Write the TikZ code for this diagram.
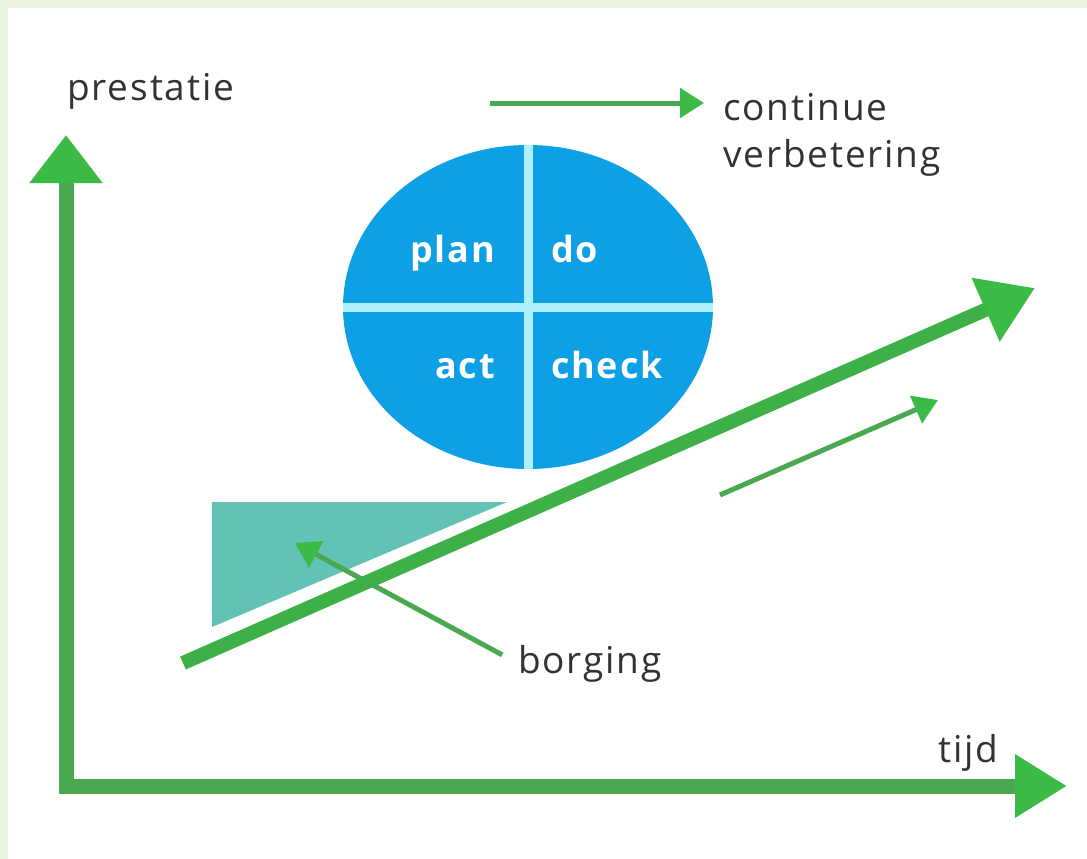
\documentclass[tikz,border=0pt]{standalone}
\usepackage{fontspec}
\setmainfont{Open Sans}
\newfontfamily\lblfont[LetterSpace=5]{Open Sans}
\usetikzlibrary{arrows.meta,shapes.geometric}
\definecolor{axgreen}{RGB}{74,168,80}
\definecolor{headgreen}{RGB}{60,186,70}
\definecolor{linegreen}{RGB}{62,176,72}
\definecolor{pdcablue}{RGB}{14,160,228}
\definecolor{divider}{RGB}{175,240,255}
\definecolor{tealfill}{RGB}{98,194,182}
\definecolor{framegreen}{RGB}{234,242,224}
\definecolor{txt}{RGB}{50,50,50}
\begin{document}
\begin{tikzpicture}[x=1pt,y=-1pt,
  lbl/.style={inner sep=0pt, text=txt, font=\lblfont\fontsize{37}{47}\selectfont},
  pdcatxt/.style={inner sep=0pt, text=white, font=\lblfont\fontsize{36}{42}\selectfont\bfseries},
  axisline/.style={draw=axgreen, line width=15pt, line join=miter},
  bigarrow/.style={draw=linegreen, line width=14pt, -{Triangle[length=54pt,width=66pt,color=headgreen]}},
  thinarrow/.style={draw=axgreen, line width=5pt, -{Triangle[length=24pt,width=29pt,color=headgreen]}},
  divline/.style={draw=divider, line width=9pt}]
\fill[white] (0,0) rectangle (1087,859);
\useasboundingbox (0,0) rectangle (1087,859);
\fill[framegreen] (0,0) rectangle (1087,8);
\fill[framegreen] (0,0) rectangle (8,859);

% borging triangle
\fill[tealfill] (212,502) -- (507,502) -- (212,627) -- cycle;

% PDCA circle
\node[ellipse, fill=pdcablue, minimum width=370pt, minimum height=324pt, inner sep=0pt] (pdca) at (528,307) {};
\draw[divline] (pdca.north) -- (pdca.south);
\draw[divline] (pdca.west) -- (pdca.east);
\node[pdcatxt, anchor=base east] (plan) at (495,262) {plan};
\node[pdcatxt, anchor=base west] (do) at (551,262) {do};
\node[pdcatxt, anchor=base east] (act) at (495,378) {act};
\node[pdcatxt, anchor=base west] (check) at (551,378) {check};

% axes
\coordinate (ytip) at (66,135);
\coordinate (xtip) at (1067,786);
\draw[axisline, {Triangle[length=48pt,width=70pt,color=headgreen]}-{Triangle[length=52pt,width=60pt,color=headgreen]}] (ytip) |- (xtip);
\node[lbl, anchor=base west] (prestatie) at (67,100) {prestatie};
\node[lbl, anchor=base west] (tijd) at (938,762) {tijd};

% continue verbetering
\node[lbl, anchor=base west, align=left] (cont) at (723,167) {continue\\verbetering};
\coordinate (cvs) at (490,103);
\coordinate (cve) at (704,103);
\draw[thinarrow] (cvs) -- (cve);

% borging
\node[lbl, anchor=base west] (borging) at (518,673) {borging};
\coordinate (bortip) at (295,543);
\draw[thinarrow, shorten <=18pt] (borging.west) -- (bortip);

% improvement arrows
\coordinate (bigs) at (183,663);
\coordinate (bige) at (1035,288);
\draw[bigarrow] (bigs) -- (bige);
\coordinate (smalls) at (720,495);
\coordinate (smalle) at (938,400);
\draw[thinarrow] (smalls) -- (smalle);
\end{tikzpicture}
\end{document}
